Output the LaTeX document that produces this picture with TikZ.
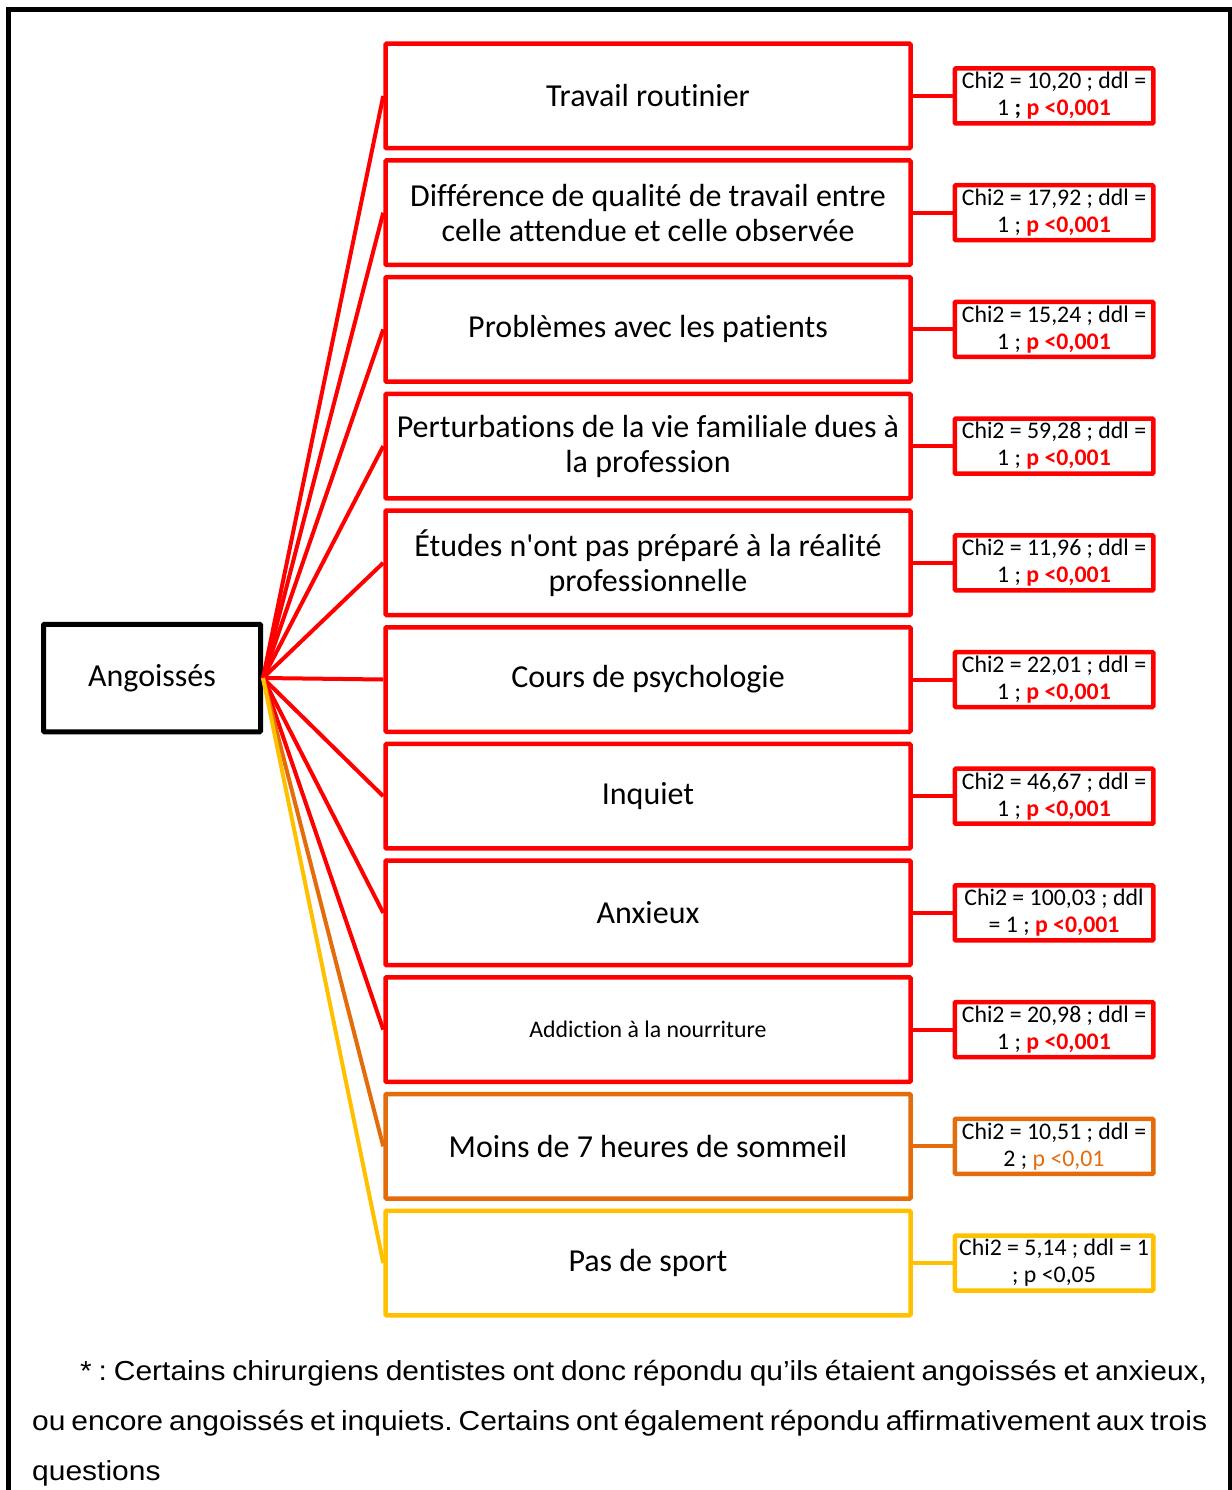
\documentclass[tikz,border=0pt]{standalone}
\usepackage{fontspec}
\setmainfont{Carlito}[Ligatures=NoCommon]
\newfontfamily\arialf{Liberation Sans}[FakeStretch=1.09]
\definecolor{cred}{HTML}{FF0000}
\definecolor{corange}{HTML}{E46C0A}
\definecolor{cyellow}{HTML}{FFC000}
\newcommand{\pr}{\textcolor{cred}{\textbf{p <0,001}}}
\frenchspacing
\begin{document}
\begin{tikzpicture}[x=1pt,y=-1pt,
  mainbox/.style={draw, line width=4.5pt, minimum width=525pt, minimum height=104.5pt,
    align=center, font=\fontsize{32}{35}\selectfont, inner sep=0pt, rounded corners=1pt},
  statbox/.style={draw, line width=4.5pt, minimum width=198.5pt, minimum height=55pt,
    align=center, font=\fontsize{23.8}{27}\selectfont, inner sep=0pt, rounded corners=1pt},
  link/.style={line width=4pt},
  foot/.style={anchor=base west, inner sep=0pt, font=\arialf\fontsize{27.5}{30}\selectfont},
]
\useasboundingbox (0,0) rectangle (1231,1490);
\fill[white] (0,0) rectangle (1231,1490);
\draw[line width=5pt] (8.5,10) rectangle (1230.5,1530);

\node[draw, line width=5pt, minimum width=217pt, minimum height=107.5pt, inner sep=0pt,
  font=\fontsize{32}{35}\selectfont, rounded corners=1pt] (ang) at (152,678) {Angoissés};

% main boxes
\node[mainbox, cred] (b1) at (648,96) {\color{black}Travail routinier};
\node[mainbox, cred] (b2) at (648,212.7) {\color{black}Différence de qualité de travail entre\\\color{black}celle attendue et celle observée};
\node[mainbox, cred] (b3) at (648,329.4) {\color{black}Problèmes avec les patients};
\node[mainbox, cred] (b4) at (648,446.1) {\color{black}Perturbations de la vie familiale dues à\\\color{black}la profession};
\node[mainbox, cred] (b5) at (648,562.8) {\color{black}Études n\textquotesingle ont pas préparé à la réalité\\\color{black}professionnelle};
\node[mainbox, cred] (b6) at (648,679.5) {\color{black}Cours de psychologie};
\node[mainbox, cred] (b7) at (648,796.2) {\color{black}Inquiet};
\node[mainbox, cred] (b8) at (648,912.9) {\color{black}Anxieux};
\node[mainbox, cred, font=\fontsize{23.8}{27}\selectfont] (b9) at (648,1029.6) {\color{black}Addiction à la nourriture};
\node[mainbox, corange] (b10) at (648,1146.3) {\color{black}Moins de 7 heures de sommeil};
\node[mainbox, cyellow] (b11) at (648,1263) {\color{black}Pas de sport};

% stat boxes
\node[statbox, cred] (s1) at (1054,96) {\color{black}Chi2 = 10,20 ; ddl =\\\color{black}1 \textbf{;} \pr};
\node[statbox, cred] (s2) at (1054,212.7) {\color{black}Chi2 = 17,92 ; ddl =\\\color{black}1 ; \pr};
\node[statbox, cred] (s3) at (1054,329.4) {\color{black}Chi2 = 15,24 ; ddl =\\\color{black}1 ; \pr};
\node[statbox, cred] (s4) at (1054,446.1) {\color{black}Chi2 = 59,28 ; ddl =\\\color{black}1 ; \pr};
\node[statbox, cred] (s5) at (1054,562.8) {\color{black}Chi2 = 11,96 ; ddl =\\\color{black}1 ; \pr};
\node[statbox, cred] (s6) at (1054,679.5) {\color{black}Chi2 = 22,01 ; ddl =\\\color{black}1 ; \pr};
\node[statbox, cred] (s7) at (1054,796.2) {\color{black}Chi2 = 46,67 ; ddl =\\\color{black}1 ; \pr};
\node[statbox, cred] (s8) at (1054,912.9) {\color{black}Chi2 = 100,03 ; ddl\\\color{black}= 1 ; \pr};
\node[statbox, cred] (s9) at (1054,1029.6) {\color{black}Chi2 = 20,98 ; ddl =\\\color{black}1 ; \pr};
\node[statbox, corange] (s10) at (1054,1146.3) {\color{black}Chi2 = 10,51 ; ddl =\\\color{black}2 ; \textcolor{corange}{p <0,01}};
\node[statbox, cyellow] (s11) at (1054,1263) {\color{black}Chi2 = 5,14 ; ddl = 1\\\color{black}; p <0,05};

% links
\foreach \i in {1,...,9} {
  \draw[link, cred] (ang.east) -- (b\i.west);
  \draw[link, cred] (b\i.east) -- (s\i.west);
}
\draw[link, corange] (ang.east) -- (b10.west);
\draw[link, corange] (b10.east) -- (s10.west);
\draw[link, cyellow] (ang.east) -- (b11.west);
\draw[link, cyellow] (b11.east) -- (s11.west);

% footnote
\node[foot] (f1) at (80,1380) {\makebox[1127pt][s]{* : Certains chirurgiens dentistes ont donc répondu qu’ils étaient angoissés et anxieux,}};
\node[foot] (f2) at (32,1430) {\makebox[1175pt][s]{ou encore angoissés et inquiets. Certains ont également répondu affirmativement aux trois}};
\node[foot] (f3) at (32,1480) {questions};
\end{tikzpicture}
\end{document}
